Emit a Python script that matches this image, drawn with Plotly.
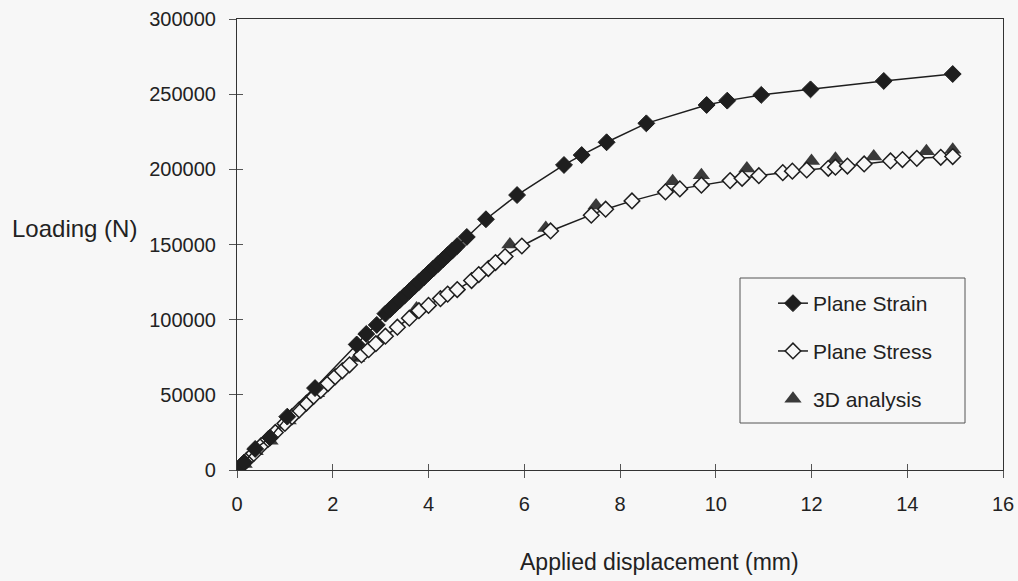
import plotly.graph_objects as go

# Plane strain FE results (filled diamonds)
strain_x = [0, 0.15, 0.38, 0.69, 1.05, 1.63, 2.5, 2.7, 2.92,
            3.1, 3.2, 3.3, 3.4, 3.5, 3.6, 3.7, 3.8, 3.9, 4.0, 4.1, 4.2, 4.3, 4.4, 4.5, 4.6,
            4.8, 5.2, 5.85, 6.83, 7.2, 7.72, 8.55, 9.81, 10.24, 10.95, 11.98, 13.51, 14.95]
strain_y = [0, 5000, 14000, 21500, 35500, 54500, 83500, 90500, 96500,
            104000, 107000, 110000, 113000, 116000, 119000, 122000, 125000, 128000, 131000,
            134000, 137000, 140000, 143000, 146000, 149000,
            155000, 166800, 182900, 202900, 209500, 218000, 230600, 242800, 245700, 249500,
            253200, 258800, 263400]

# Plane stress FE results (open diamonds)
stress_x = [0, 0.1, 0.2, 0.35, 0.5, 0.65, 0.8, 1.0, 1.15, 1.3, 1.45, 1.6, 1.75, 1.9, 2.05,
            2.2, 2.35, 2.6, 2.75, 2.9, 3.1, 3.35, 3.6, 3.8, 4.0, 4.25, 4.4, 4.6, 4.9, 5.05,
            5.25, 5.4, 5.6, 5.95, 6.55, 7.4, 7.7, 8.25, 8.95, 9.25, 9.7, 10.3, 10.55, 10.9,
            11.4, 11.6, 11.9, 12.35, 12.5, 12.75, 13.1, 13.65, 13.9, 14.2, 14.7, 14.95]
stress_y = [0, 3200, 6400, 11000, 16000, 20500, 25000, 31000, 35500, 40000, 44500, 49000,
            53000, 57500, 62000, 66000, 70000, 76500, 80000, 84000, 89000, 95000, 101000,
            106000, 109500, 114000, 117000, 120000, 126000, 130000, 134000, 138000, 142000,
            149000, 159000, 169500, 173500, 179000, 185000, 187000, 189500, 192500, 194000,
            195800, 197800, 198800, 199600, 200700, 201400, 202200, 203600, 205600, 206500,
            207300, 208000, 208500]

# 3D analysis results (triangles, no line)
solid_x = [0, 0.15, 0.38, 0.69, 1.07, 1.66, 2.5, 3.75, 5.7, 6.45, 7.5, 9.1, 9.7, 10.65,
           12.0, 12.5, 13.3, 14.4, 14.95]
solid_y = [0, 4000, 12500, 19500, 33000, 51000, 74500, 107500, 150000, 161000, 176000,
           192000, 196000, 200500, 205500, 207000, 208500, 212000, 213000]

x_ticks = [0, 2, 4, 6, 8, 10, 12, 14, 16]
y_ticks = [0, 50000, 100000, 150000, 200000, 250000, 300000]
y_labels = [str(v) for v in y_ticks]

BG = "#f7f7f7"
INK = "#1e1e1e"
TEXT = "#222"
FONT = "Liberation Sans, Arial, sans-serif"

fig = go.Figure()

fig.add_trace(go.Scatter(
    x=solid_x, y=solid_y, mode="markers", name="3D analysis",
    legendgroup="c", legendrank=3,
    marker=dict(symbol="triangle-up", size=15, color="#3a3a3a",
                line=dict(color="#3a3a3a", width=0)),
))
fig.add_trace(go.Scatter(
    x=stress_x, y=stress_y, mode="lines+markers", name="Plane Stress",
    legendgroup="b", legendrank=2,
    line=dict(color=INK, width=1.5),
    marker=dict(symbol="diamond", size=12, color=BG, line=dict(color=INK, width=1.5)),
))
fig.add_trace(go.Scatter(
    x=strain_x, y=strain_y, mode="lines+markers", name="Plane Strain",
    legendgroup="a", legendrank=1,
    line=dict(color=INK, width=1.5),
    marker=dict(symbol="diamond", size=13, color=INK, line=dict(color=INK, width=1)),
))

axis_common = dict(showgrid=False, zeroline=False, linecolor="#333", linewidth=1.2,
                   tickcolor="#555", tickwidth=1, ticklen=7, automargin=False,
                   tickfont=dict(family=FONT, size=20, color=TEXT))

fig.update_layout(
    width=1018, height=581,
    margin=dict(l=237, r=15, t=19, b=111),
    paper_bgcolor=BG, plot_bgcolor=BG,
    font=dict(family=FONT, size=20, color=TEXT),
    showlegend=True,
    legend=dict(x=0.6997, y=0.4146, xanchor="left", yanchor="top",
                bgcolor="rgba(0,0,0,0)", borderwidth=0,
                tracegroupgap=17.5, traceorder="grouped",
                font=dict(family=FONT, size=21, color=TEXT)),
    xaxis=dict(range=[0, 16], tickvals=x_ticks, ticks="outside", showline=True,
               mirror=True, ticklabelstandoff=9, **axis_common),
    yaxis=dict(range=[0, 300000], tickvals=y_ticks, ticktext=y_labels, ticks="outside",
               showline=True, mirror=True, ticklabelstandoff=9, **axis_common),
    # companion axes carry the inner half of the crossing tick marks
    xaxis2=dict(overlaying="x", matches="x", range=[0, 16], tickvals=x_ticks,
                ticks="inside", ticklen=6, tickcolor="#555", showticklabels=False,
                showgrid=False, zeroline=False, showline=False, side="bottom",
                automargin=False),
    yaxis2=dict(overlaying="y", matches="y", range=[0, 300000], tickvals=y_ticks,
                ticks="inside", ticklen=6, tickcolor="#555", showticklabels=False,
                showgrid=False, zeroline=False, showline=False, side="left",
                automargin=False),
)

fig.add_trace(go.Scatter(x=[None], y=[None], xaxis="x2", yaxis="y2",
                         showlegend=False, hoverinfo="skip"))

# frame around the legend
fig.add_shape(type="rect", xref="paper", yref="paper",
              x0=(740 - 237) / 766, x1=(965 - 237) / 766,
              y0=1 - (423 - 19) / 451, y1=1 - (278 - 19) / 451,
              line=dict(color="#555", width=1), fillcolor="rgba(0,0,0,0)", layer="above")

fig.add_annotation(text="Loading (N)", xref="paper", yref="paper",
                   x=(10 - 237) / 766, y=0.535, xanchor="left", yanchor="middle",
                   showarrow=False, font=dict(family=FONT, size=24, color=TEXT))
fig.add_annotation(text="Applied displacement (mm)", xref="paper", yref="paper",
                   x=(659 - 237) / 766, y=-0.205, xanchor="center", yanchor="middle",
                   showarrow=False, font=dict(family=FONT, size=23, color=TEXT))

fig.write_html("out.html")
